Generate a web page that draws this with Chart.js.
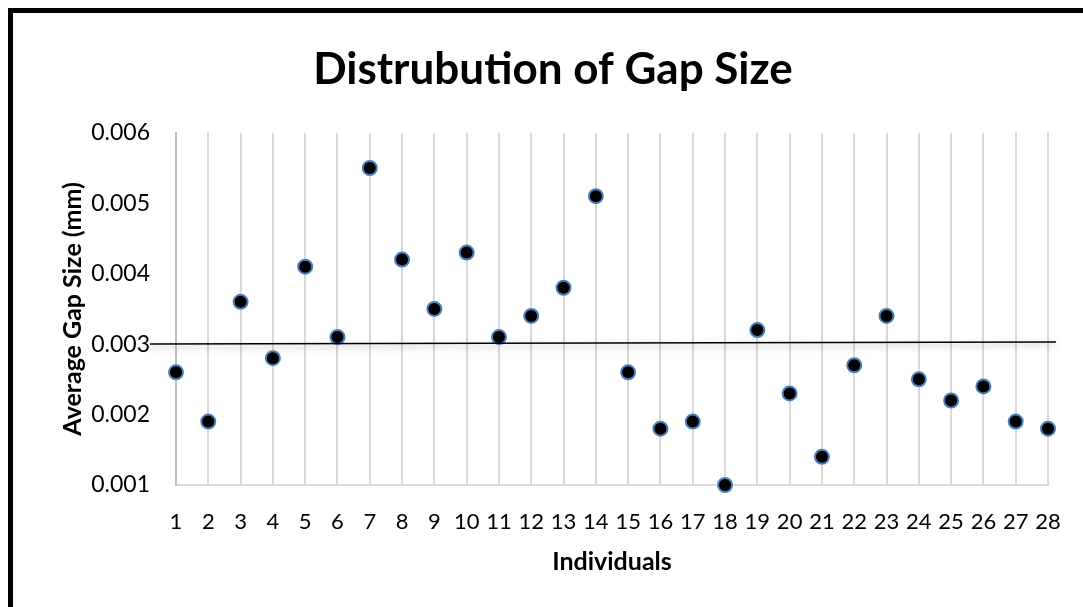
<!DOCTYPE html>
<html>
<head>
<meta charset="utf-8">
<script src="https://cdn.jsdelivr.net/npm/chart.js@4.4.1/dist/chart.umd.min.js"></script>
<style>
  html, body { margin: 0; padding: 0; background: #fff; overflow: hidden; }
  #frame {
    position: absolute; left: 8px; top: 8px;
    width: 1200px; height: 700px;
    border: 5px solid #000;
  }
  #wrap { position: absolute; left: 0; top: 0; width: 1140px; height: 607px; }
</style>
</head>
<body>
<div id="frame"></div>
<div id="wrap"><canvas id="gapChart" width="1140" height="607"></canvas></div>
<script>
// category labels (individuals 1..28)
const individuals = ["1","2","3","4","5","6","7","8","9","10","11","12","13","14",
  "15","16","17","18","19","20","21","22","23","24","25","26","27","28"];

// average gap size per individual (mm)
const gapSizes = [0.0026, 0.0019, 0.0036, 0.0028, 0.0041, 0.0031, 0.0055, 0.0042,
  0.0035, 0.0043, 0.0031, 0.0034, 0.0038, 0.0051, 0.0026, 0.0018, 0.0019, 0.0010,
  0.0032, 0.0023, 0.0014, 0.0027, 0.0034, 0.0025, 0.0022, 0.0024, 0.0019, 0.0018];

// reference line drawn across the plot (start / end value)
const refLine = [0.0030, 0.00303];

// y axis ticks
const yTicks = [0.001, 0.002, 0.003, 0.004, 0.005, 0.006];

const FONT = "Lato, 'Open Sans', sans-serif";

// horizontal reference line with a soft shadow, a bit wider than the plot
const refLinePlugin = {
  id: "refLine",
  afterDatasetsDraw(chart) {
    const { ctx, chartArea, scales } = chart;
    const y0 = scales.y.getPixelForValue(refLine[0]);
    const y1 = scales.y.getPixelForValue(refLine[1]);
    ctx.save();
    ctx.strokeStyle = "#000";
    ctx.lineWidth = 1.5;
    ctx.shadowColor = "rgba(0,0,0,0.35)";
    ctx.shadowBlur = 6;
    ctx.shadowOffsetY = 3;
    ctx.beginPath();
    ctx.moveTo(chartArea.left - 26, y0);
    ctx.lineTo(chartArea.right + 8, y1);
    ctx.stroke();
    ctx.restore();
  }
};

const ctx = document.getElementById("gapChart");
new Chart(ctx, {
  type: "line",
  data: {
    labels: individuals,
    datasets: [{
      data: gapSizes,
      showLine: false,
      pointRadius: 7,
      pointHoverRadius: 7,
      pointBackgroundColor: "#000",
      pointBorderColor: "#4a7ebb",
      pointBorderWidth: 2,
      clip: false
    }]
  },
  options: {
    responsive: false,
    animation: false,
    devicePixelRatio: 1,
    // canvas is wider than the window so the title sits where the original has it
    layout: { padding: { left: 58, right: 92, top: 0, bottom: 30 } },
    plugins: {
      legend: { display: false },
      tooltip: { enabled: false },
      title: {
        display: true,
        text: "Distrubution of Gap Size",
        color: "#000",
        font: { family: FONT, size: 44, weight: "bold" },
        padding: { top: 43, bottom: 37 }
      }
    },
    scales: {
      x: {
        offset: false,
        grid: { color: "#d9d9d9", lineWidth: 2, drawTicks: false },
        border: { color: "#d9d9d9", width: 2 },
        ticks: {
          color: "#000", padding: 24, maxRotation: 0, autoSkip: false,
          font: { family: FONT, size: 22 }
        },
        title: {
          display: true, text: "Individuals", color: "#000",
          font: { family: FONT, size: 25, weight: "bold" },
          padding: { top: 12, bottom: 0 }
        },
        afterFit(scale) { scale.height = 92; }
      },
      y: {
        min: 0.001,
        max: 0.006,
        afterBuildTicks(scale) { scale.ticks = yTicks.map(v => ({ value: v })); },
        grid: { display: false, drawTicks: false },
        border: { color: "#bfbfbf", width: 2 },
        ticks: {
          color: "#000", padding: 26,
          font: { family: FONT, size: 23 },
          callback: v => v.toFixed(3)
        },
        title: {
          display: true, text: "Average Gap Size (mm)", color: "#000",
          font: { family: FONT, size: 25, weight: "bold" },
          padding: { top: 0, bottom: 0 }
        },
        afterFit(scale) { scale.width = 118; }
      }
    }
  },
  plugins: [refLinePlugin]
});
</script>
</body>
</html>
